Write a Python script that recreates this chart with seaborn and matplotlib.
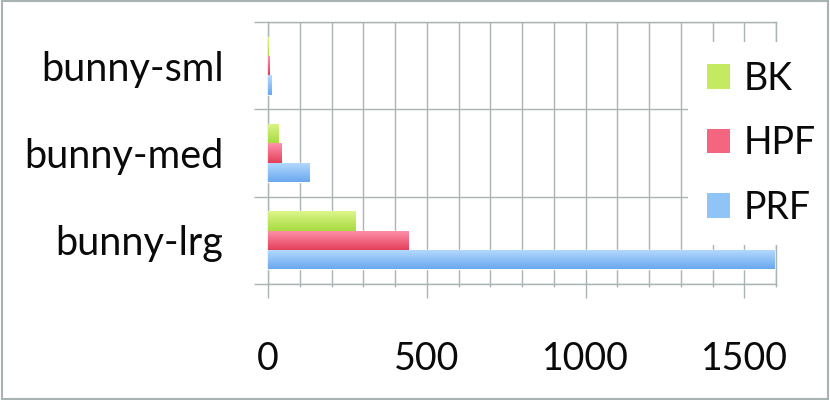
import numpy as np
import pandas as pd
import matplotlib as mpl
mpl.use('Agg')
import matplotlib.pyplot as plt
from matplotlib.patches import Patch, Rectangle
from matplotlib.ticker import MultipleLocator, FixedLocator
import seaborn as sb

cases = ["bunny-sml", "bunny-med", "bunny-lrg"]
methods = ["BK", "HPF", "PRF"]
bk_time = [2, 32, 277]
hpf_time = [4, 42, 442]
prf_time = [10, 131, 1595]

# mid colour, top of gradient, bottom of gradient
mid_colors = ["#c4ea62", "#f4657f", "#8ec4f6"]
top_colors = ["#dcf68a", "#ff93ad", "#b6dbff"]
bot_colors = ["#a8da40", "#e43f5a", "#6aa8ee"]
grid_col = "#aab4b4"

sb.set_style("white")
plt.rcParams['font.family'] = ['Lato', 'DejaVu Sans']

df = pd.DataFrame({
    "case": cases * 3,
    "method": [m for m in methods for _ in cases],
    "time": bk_time + hpf_time + prf_time,
})

fig = plt.figure(figsize=(8.3, 4), dpi=100)
W, H = 830.0, 400.0
ax = fig.add_axes([268 / W, 1 - 284 / H, (776 - 268) / W, (284 - 22) / H])

sb.barplot(data=df, x="time", y="case", hue="method", hue_order=methods,
           order=cases, palette=mid_colors, orient="h", width=0.665,
           saturation=1, legend=False, ax=ax, zorder=3)

# glossy vertical gradient on each bar
for cont, c_top, c_bot in zip(ax.containers, top_colors, bot_colors):
    ct = np.array(mpl.colors.to_rgb(c_top))
    cb = np.array(mpl.colors.to_rgb(c_bot))
    t = np.linspace(0, 1, 64)[:, None]
    grad = (ct * (1 - t) + cb * t)[:, None, :]
    for bar in cont:
        x0, y0 = bar.get_x(), bar.get_y()
        w, h = bar.get_width(), bar.get_height()
        if w <= 0:
            continue
        im = ax.imshow(grad, extent=[x0, x0 + w, y0 + h, y0], origin="upper",
                       aspect="auto", zorder=3.5, interpolation="bilinear")
        im.set_clip_path(bar)

ax.set_xlim(0, 1600)
ax.set_ylim(2.5, -0.5)
ax.set_xlabel("")
ax.set_ylabel("")

ax.xaxis.set_major_locator(MultipleLocator(500))
ax.xaxis.set_minor_locator(MultipleLocator(100))
ax.set_yticks([0, 1, 2])
ax.yaxis.set_minor_locator(FixedLocator([-0.5, 0.5, 1.5, 2.5]))

ax.grid(True, which="both", axis="x", color=grid_col, lw=1, zorder=1)
ax.grid(True, which="minor", axis="y", color=grid_col, lw=1, zorder=1)
ax.grid(False, which="major", axis="y")
ax.set_axisbelow(True)

ax.tick_params(axis="x", which="major", length=10, width=1, color=grid_col,
               labelsize=27, pad=31, direction="out", bottom=True)
ax.tick_params(axis="x", which="minor", length=2, width=1, color=grid_col,
               bottom=True)
ax.tick_params(axis="y", which="major", length=0, labelsize=28.5, pad=32)
ax.tick_params(axis="y", which="minor", length=10, width=1, color=grid_col,
               left=True)
for lab in ax.get_xticklabels() + ax.get_yticklabels():
    lab.set_color("#0a0a0a")

for sp in ax.spines.values():
    sp.set_color(grid_col)
    sp.set_linewidth(1)

handles = [Patch(facecolor=c, edgecolor="none") for c in mid_colors]
leg = ax.legend(handles, methods, loc="upper left",
                bbox_to_anchor=(688 / W, 1 - 42 / H), bbox_transform=fig.transFigure,
                borderaxespad=0, borderpad=0.5, fontsize=27,
                handlelength=0.62, handleheight=0.62, handletextpad=0.36,
                labelspacing=0.76, frameon=True, fancybox=False)
leg.get_frame().set_facecolor("white")
leg.get_frame().set_edgecolor("none")
leg.get_frame().set_alpha(1)
leg.set_zorder(10)
for t in leg.get_texts():
    t.set_color("#0a0a0a")

fig.patches.append(Rectangle((0.002, 0.003), 0.996, 0.994, transform=fig.transFigure,
                             fill=False, edgecolor="#a8b2b2", lw=1.5))

fig.savefig("out.png", dpi=100)
